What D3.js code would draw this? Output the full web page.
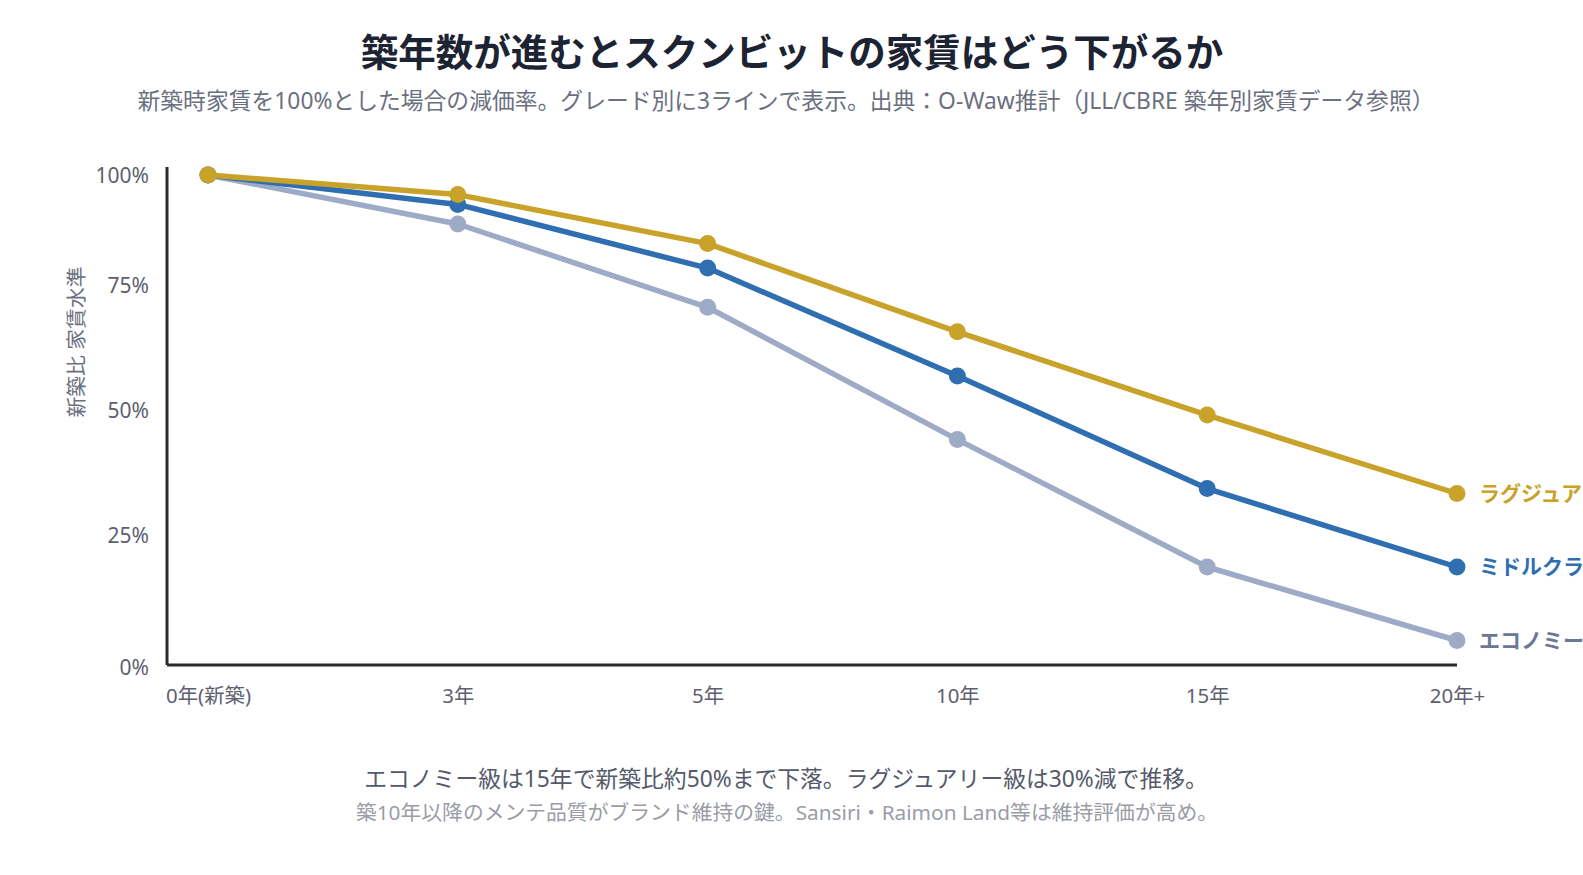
<!DOCTYPE html>
<html>
<head>
<meta charset="utf-8">
<title>築年数と家賃</title>
<script src="https://cdn.jsdelivr.net/npm/d3@7"></script>
<style>
  body { margin: 0; background: #ffffff; font-family: "Noto Sans", "Noto Sans CJK JP", sans-serif; }
  svg { display: block; }
</style>
</head>
<body>
<div id="chart"></div>
<script>
// categories (building age)
var ages = ['0年(新築)', '3年', '5年', '10年', '15年', '20年+'];

// rent level vs new build (%)
var luxury = [100, 96, 86, 68, 51, 35];
var middle = [100, 94, 81, 59, 36, 20];
var economy = [100, 90, 73, 46, 20, 5];

var seriesNames = ['ラグジュアリー', 'ミドルクラス', 'エコノミー'];
var yTicks = [0, 25, 50, 75, 100];

var titleText = '築年数が進むとスクンビットの家賃はどう下がるか';
var subtitleText = '新築時家賃を100%とした場合の減価率。グレード別に3ラインで表示。出典：O-Waw推計（JLL/CBRE 築年別家賃データ参照）';
var note1 = 'エコノミー級は15年で新築比約50%まで下落。ラグジュアリー級は30%減で推移。';
var note2 = '築10年以降のメンテ品質がブランド維持の鍵。Sansiri・Raimon Land等は維持評価が高め。';

var width = 1583, height = 875;
var margin = {top: 167, left: 167, right: 126, bottom: 210};
var w = width - margin.left - margin.right;
var h = height - margin.top - margin.bottom;
var font = '"Noto Sans", "Noto Sans CJK JP", sans-serif';

var svg = d3.select('#chart').append('svg')
  .attr('width', width)
  .attr('height', height);

// title + subtitle
svg.append('text')
  .attr('x', 792).attr('y', 66)
  .attr('text-anchor', 'middle')
  .attr('font-size', 37.5).attr('font-weight', 700)
  .attr('fill', '#1c2333')
  .text(titleText);

svg.append('text')
  .attr('x', 786).attr('y', 109)
  .attr('text-anchor', 'middle')
  .attr('font-size', 22.8)
  .attr('fill', '#6b7080')
  .text(subtitleText);

var g = svg.append('g').attr('transform', 'translate(' + margin.left + ',' + margin.top + ')');

var x = d3.scalePoint().domain(ages).range([41, w]);
var y = d3.scaleLinear().domain([0, 100]).range([h, 8]);

// y axis labels (no tick lines)
var yAxis = g.append('g')
  .call(d3.axisLeft(y).tickValues(yTicks).tickSize(0).tickPadding(18).tickFormat(function(d){ return d + '%'; }));
yAxis.select('.domain').remove();
yAxis.selectAll('text')
  .attr('font-family', font)
  .attr('font-size', 21)
  .attr('fill', '#5c6070')
  .attr('dy', function(d){
    // label nudges so the end labels sit inside the axis
    if (d === 0) return 9;
    if (d === 100) return 7;
    if (d === 25) return 0;
    if (d === 50) return -3;
    return -5;
  });

// x axis labels
var xAxis = g.append('g')
  .attr('transform', 'translate(0,' + h + ')')
  .call(d3.axisBottom(x).tickSize(0).tickPadding(24));
xAxis.select('.domain').remove();
xAxis.selectAll('text')
  .attr('font-family', font)
  .attr('font-size', 20.4)
  .attr('fill', '#5c6070');

// axis lines
g.append('line').attr('x1', 0).attr('x2', 0).attr('y1', 0).attr('y2', h)
  .attr('stroke', '#2b2b2b').attr('stroke-width', 3);
g.append('line').attr('x1', 0).attr('x2', w).attr('y1', h).attr('y2', h)
  .attr('stroke', '#2b2b2b').attr('stroke-width', 3);

// y axis title
svg.append('text')
  .attr('transform', 'translate(84,342) rotate(-90)')
  .attr('text-anchor', 'middle')
  .attr('font-size', 20.8)
  .attr('fill', '#6b7080')
  .text('新築比 家賃水準');

var series = [
  {name: seriesNames[2], values: economy, color: '#9eabc7', label: '#6a7896'},
  {name: seriesNames[1], values: middle, color: '#2f6eb0', label: '#2f6eb0'},
  {name: seriesNames[0], values: luxury, color: '#c9a22a', label: '#c9a22a'}
];

var line = d3.line()
  .x(function(d, i){ return x(ages[i]); })
  .y(function(d){ return y(d); });

series.forEach(function(s){
  g.append('path')
    .attr('d', line(s.values))
    .attr('fill', 'none')
    .attr('stroke', s.color)
    .attr('stroke-width', 5.5)
    .attr('stroke-linejoin', 'round');

  g.selectAll(null)
    .data(s.values)
    .enter()
    .append('circle')
    .attr('cx', function(d, i){ return x(ages[i]); })
    .attr('cy', function(d){ return y(d); })
    .attr('r', 8.5)
    .attr('fill', s.color);

  var last = s.values[s.values.length - 1];
  g.append('text')
    .attr('x', x(ages[ages.length - 1]) + 22)
    .attr('y', y(last))
    .attr('dy', '0.35em')
    .attr('font-size', 21)
    .attr('font-weight', 700)
    .attr('fill', s.label)
    .text(s.name);
});

// notes below
svg.append('text')
  .attr('x', 786).attr('y', 787)
  .attr('text-anchor', 'middle')
  .attr('font-size', 22.8)
  .attr('fill', '#555a6b')
  .text(note1);

svg.append('text')
  .attr('x', 787).attr('y', 820)
  .attr('text-anchor', 'middle')
  .attr('font-size', 20.8)
  .attr('fill', '#9a9ca6')
  .text(note2);
</script>
</body>
</html>
